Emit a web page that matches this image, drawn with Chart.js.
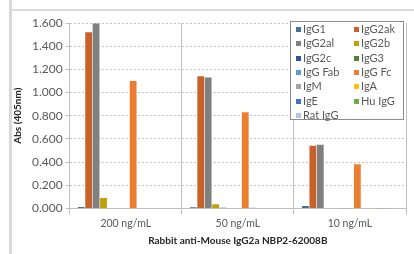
<!DOCTYPE html>
<html>
<head>
<meta charset="utf-8">
<script src="https://cdn.jsdelivr.net/npm/chart.js@4.4.1/dist/chart.umd.min.js"></script>
<style>
  html, body { margin: 0; padding: 0; background: #fff; }
  #wrap { position: relative; width: 414px; height: 254px; overflow: hidden; }
  #frameTop { position: absolute; left: 10px; top: 9px; width: 404px; height: 2px; background: #d9d9d9; }
  #frameLeft { position: absolute; left: 9px; top: 0px; width: 3px; height: 254px; background: #d9d9d9; }
  #cv { position: absolute; left: 0; top: 0; }
  #legend { position: absolute; left: 290px; top: 21px; width: 114px; height: 99px; background: #fff;
            border: 1px solid #8c8c8c; box-sizing: border-box; font-family: Lato, "Open Sans", sans-serif;
            font-size: 11px; color: #595959; }
  #legend .item { position: absolute; white-space: nowrap; line-height: 12px; }
  #legend .sw { display: inline-block; width: 5px; height: 5px; margin-right: 2px; vertical-align: 1px; }
</style>
</head>
<body>
<div id="wrap">
  <canvas id="cv" width="414" height="254"></canvas>
  <div id="frameTop"></div>
  <div id="frameLeft"></div>
  <div id="legend"></div>
</div>
<script>
const categories = ['200 ng/mL', '50 ng/mL', '10 ng/mL'];
const seriesNames = ['IgG1', 'IgG2ak', 'IgG2al', 'IgG2b', 'IgG2c', 'IgG3', 'IgG Fab', 'IgG Fc', 'IgM', 'IgA', 'IgE', 'Hu IgG', 'Rat IgG'];
const IgG1   = [0.012, 0.010, 0.020];
const IgG2ak = [1.520, 1.140, 0.540];
const IgG2al = [1.595, 1.130, 0.550];
const IgG2b  = [0.090, 0.035, 0.004];
const IgG2c  = [0.004, 0.006, 0.003];
const IgG3   = [0.003, 0.003, 0.002];
const IgGFab = [0.003, 0.003, 0.002];
const IgGFc  = [1.100, 0.830, 0.380];
const IgM    = [0.004, 0.006, 0.003];
const IgA    = [0.003, 0.003, 0.002];
const IgE    = [0.003, 0.003, 0.002];
const HuIgG  = [0.003, 0.003, 0.002];
const RatIgG = [0.003, 0.003, 0.002];
const seriesValues = [IgG1, IgG2ak, IgG2al, IgG2b, IgG2c, IgG3, IgGFab, IgGFc, IgM, IgA, IgE, HuIgG, RatIgG];
const seriesColors = ['#41719c', '#c8622a', '#808080', '#bfa000', '#2f5597', '#548235', '#5b9bd5', '#ed7d31', '#a5a5a5', '#ffc000', '#4472c4', '#70ad47', '#b4c7e7'];
const yTicks = [0, 0.2, 0.4, 0.6, 0.8, 1.0, 1.2, 1.4, 1.6];

const FONT = 'Lato, "Open Sans", sans-serif';

const chart = new Chart(document.getElementById('cv'), {
  type: 'bar',
  data: {
    labels: categories,
    datasets: seriesNames.map((n, i) => ({
      label: n,
      data: seriesValues[i],
      backgroundColor: seriesColors[i],
      borderWidth: 0,
      categoryPercentage: 0.86,
      barPercentage: 0.92
    }))
  },
  options: {
    responsive: false,
    animation: false,
    devicePixelRatio: 1,
    layout: { padding: { top: 23, right: 8, left: 12, bottom: 7 } },
    plugins: { legend: { display: false }, tooltip: { enabled: false } },
    scales: {
      x: {
        grid: { display: true, offset: true, color: '#bfbfbf', lineWidth: 1, tickLength: 6, drawTicks: true },
        border: { display: true, color: '#bfbfbf' },
        ticks: { color: '#595959', font: { family: FONT, size: 10.5 }, padding: 3 },
        title: { display: true, text: 'Rabbit anti-Mouse IgG2a NBP2-62008B', color: '#262626',
                 font: { family: FONT, size: 10, weight: 'bold' }, padding: { top: 2, bottom: 0 } }
      },
      y: {
        min: 0, max: 1.6,
        afterBuildTicks: (axis) => { axis.ticks = yTicks.map(v => ({ value: v })); },
        grid: { color: '#c4c4c4', lineWidth: 1, drawTicks: true, tickLength: 4, tickColor: '#bfbfbf' },
        border: { display: true, color: '#bfbfbf', dash: [2, 2] },
        ticks: { color: '#595959', font: { family: FONT, size: 12 }, padding: 3,
                 callback: (v) => Number(v).toFixed(3) },
        title: { display: true, text: 'Abs (405nm)', color: '#262626',
                 font: { family: FONT, size: 10, weight: 'bold' }, padding: { top: 0, bottom: 5 } }
      }
    }
  }
});

// HTML legend built from chart datasets (2 columns, row-major)
const lg = document.getElementById('legend');
chart.data.datasets.forEach((ds, i) => {
  const row = Math.floor(i / 2), col = i % 2;
  const d = document.createElement('div');
  d.className = 'item';
  d.style.left = (col === 0 ? 5 : 63) + 'px';
  d.style.top = (1 + row * 14.3) + 'px';
  const sw = document.createElement('span');
  sw.className = 'sw';
  sw.style.background = ds.backgroundColor;
  d.appendChild(sw);
  d.appendChild(document.createTextNode(ds.label));
  lg.appendChild(d);
});
</script>
</body>
</html>
